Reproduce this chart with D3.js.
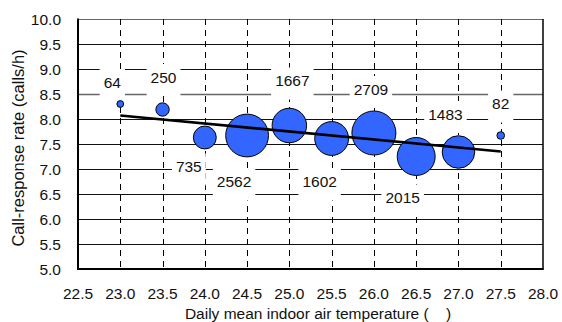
<!DOCTYPE html>
<html>
<head>
<meta charset="utf-8">
<script src="https://cdn.jsdelivr.net/npm/d3@7"></script>
<style>
  html, body { margin: 0; padding: 0; background: #fff; }
  svg { display: block; font-family: "Liberation Sans", Arial, sans-serif; }
</style>
</head>
<body>
<svg id="chart" width="562" height="322"></svg>
<script>
// Daily mean indoor air temperature bins (°C)
const temperatures = [23.0, 23.5, 24.0, 24.5, 25.0, 25.5, 26.0, 26.5, 27.0, 27.5];
// Mean call-response rate per bin (calls/h)
const responseRates = [8.30, 8.19, 7.63, 7.67, 7.87, 7.61, 7.72, 7.25, 7.34, 7.67];
// Number of calls in each bin (bubble size and label)
const callCounts = [64, 250, 735, 2562, 1667, 1602, 2709, 2015, 1483, 82];
// Fitted trend line end points
const trendX = [23.0, 27.5];
const trendY = [8.07, 7.35];
// Axis ticks
const xTicks = [22.5, 23.0, 23.5, 24.0, 24.5, 25.0, 25.5, 26.0, 26.5, 27.0, 27.5, 28.0];
const yTicks = [5.0, 5.5, 6.0, 6.5, 7.0, 7.5, 8.0, 8.5, 9.0, 9.5, 10.0];

// Label placement, pixel offsets from each bubble centre
const labelOffsets = [[-8, -22], [1, -32.5], [-16, 29], [-13, 46], [3, -45],
                      [-12, 43], [-3, -44], [-13.5, 41], [-13, -38], [0, -32]];

const FONT = 15.5;
const svg = d3.select("#chart");
const plotLeft = 78, plotRight = 543, plotTop = 19, plotBottom = 269;

const x = d3.scaleLinear().domain([22.5, 28.0]).range([plotLeft, plotRight]);
const y = d3.scaleLinear().domain([5.0, 10.0]).range([plotBottom, plotTop]);
const r = d3.scaleSqrt().domain([0, d3.max(callCounts)]).range([0, 22]);

// Horizontal gridlines
svg.append("g").selectAll("line").data(yTicks.slice(1)).join("line")
  .attr("x1", plotLeft).attr("x2", plotRight)
  .attr("y1", d => Math.round(y(d)) + 0.5).attr("y2", d => Math.round(y(d)) + 0.5)
  .attr("stroke", d => (d === 10.0 || d === 8.5) ? "#666" : "#111")
  .attr("stroke-width", d => d === 8.5 ? 1.6 : 1);

// Vertical dashed gridlines
svg.append("g").selectAll("line").data(xTicks.slice(1, -1)).join("line")
  .attr("x1", d => Math.round(x(d)) + 0.5).attr("x2", d => Math.round(x(d)) + 0.5)
  .attr("y1", plotTop).attr("y2", plotBottom)
  .attr("stroke", "#000").attr("stroke-width", 1)
  .attr("stroke-dasharray", "6,5");

// Plot frame
svg.append("line").attr("x1", plotRight).attr("x2", plotRight).attr("y1", plotTop).attr("y2", plotBottom)
  .attr("stroke", "#000").attr("stroke-width", 1.5);
svg.append("line").attr("x1", plotLeft).attr("x2", plotLeft).attr("y1", plotTop - 0.5).attr("y2", plotBottom + 1)
  .attr("stroke", "#000").attr("stroke-width", 2);
svg.append("line").attr("x1", plotLeft - 1).attr("x2", plotRight + 0.75).attr("y1", plotBottom).attr("y2", plotBottom)
  .attr("stroke", "#000").attr("stroke-width", 2);

// Data labels with white boxes
const boxWidth = d => String(d).length * 0.556 * FONT + 8;
const labels = svg.append("g").selectAll("g").data(callCounts).join("g")
  .attr("transform", (d, i) => {
    const cx = x(temperatures[i]) + labelOffsets[i][0];
    const cy = y(responseRates[i]) + labelOffsets[i][1];
    return `translate(${cx},${cy})`;
  });
labels.append("rect")
  .attr("x", d => -boxWidth(d) / 2)
  .attr("width", boxWidth)
  .attr("y", -13).attr("height", 32)
  .attr("fill", "#fff");
labels.append("text")
  .attr("text-anchor", "middle").attr("dy", "0.36em")
  .attr("font-size", FONT).attr("fill", "#111")
  .text(d => d);

// Bubbles
svg.append("g").selectAll("circle").data(callCounts).join("circle")
  .attr("cx", (d, i) => x(temperatures[i]))
  .attr("cy", (d, i) => y(responseRates[i]))
  .attr("r", d => r(d))
  .attr("fill", "#3366FF").attr("stroke", "#000").attr("stroke-width", 1);

// Trend line
svg.append("path")
  .datum(trendX.map((t, i) => [t, trendY[i]]))
  .attr("d", d3.line().x(d => x(d[0])).y(d => y(d[1])))
  .attr("stroke", "#000").attr("stroke-width", 2.6).attr("fill", "none");

// Tick labels
svg.append("g").selectAll("text").data(yTicks).join("text")
  .attr("x", 61).attr("y", d => y(d)).attr("dy", "0.36em")
  .attr("text-anchor", "end").attr("font-size", FONT).attr("fill", "#111")
  .text(d => d.toFixed(1));
svg.append("g").selectAll("text").data(xTicks).join("text")
  .attr("x", d => x(d)).attr("y", 298.5)
  .attr("text-anchor", "middle").attr("font-size", FONT).attr("fill", "#111")
  .text(d => d.toFixed(1));

// Axis titles
svg.append("text")
  .attr("x", 318).attr("y", 319).attr("text-anchor", "middle")
  .attr("font-size", FONT).attr("fill", "#111")
  .style("white-space", "pre")
  .text("Daily mean indoor air temperature (    )");
svg.append("text")
  .attr("transform", "translate(24,148) rotate(-90)")
  .attr("text-anchor", "middle").attr("font-size", 16.5).attr("fill", "#111")
  .text("Call-response rate (calls/h)");
</script>
</body>
</html>
